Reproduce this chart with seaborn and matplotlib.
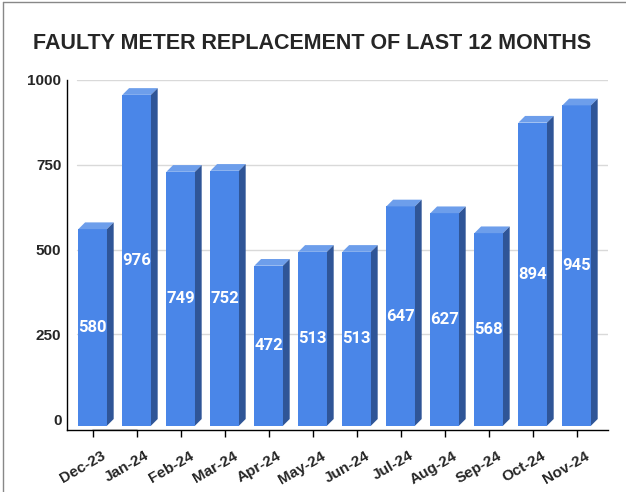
import numpy as np
import pandas as pd
import seaborn as sns
import matplotlib.pyplot as plt
import matplotlib.transforms as mtransforms
from matplotlib.patches import Polygon
from matplotlib.lines import Line2D

# data
months = ['Dec-23', 'Jan-24', 'Feb-24', 'Mar-24', 'Apr-24', 'May-24',
          'Jun-24', 'Jul-24', 'Aug-24', 'Sep-24', 'Oct-24', 'Nov-24']
replaced = [580, 976, 749, 752, 472, 513, 513, 647, 627, 568, 894, 945]
yticks = [0, 250, 500, 750, 1000]

front_col = '#4a86e8'
side_col = '#2f5597'
top_col = '#6d9eeb'

df = pd.DataFrame({'Month': months, 'Count': replaced})

sns.set_theme(style='white')
plt.rcParams['font.family'] = ['Liberation Sans', 'DejaVu Sans']

fig = plt.figure(figsize=(6.26, 4.92), dpi=100)
ax = fig.add_axes([0.1070, 0.1260, 0.8642, 0.7114])

sns.barplot(data=df, x='Month', y='Count', color=front_col, saturation=1,
            width=0.65, edgecolor='none', ax=ax, zorder=3)

ax.set_xlim(-0.584, 11.711)
ax.set_ylim(-32.4, 1000)

# depth of the 3d effect in data units (about 6.7 px)
dx = 6.7 / 44
dy = 6.7 / 0.339

# floor slab
xt = ax.get_xaxis_transform()
floor = Polygon([(0, -32.4), (0.0185, 0), (1, 0), (0.981, -32.4)],
                closed=True, transform=xt, facecolor='#e8e8e8',
                edgecolor='none', zorder=1)
ax.add_patch(floor)
ax.plot([0.0185, 1], [0, 0], transform=xt, color='#b7b7b7', lw=1.2, zorder=1.5)

# gridlines on back wall
for t in yticks[1:]:
    ax.axhline(t, xmin=0.0185, xmax=1, color='#d9d9d9', lw=1, zorder=0)

# 3d sides and tops built from the bars
for bar, v in zip(ax.patches, replaced):
    bar.set_y(-dy)
    x0 = bar.get_x()
    x1 = x0 + bar.get_width()
    top = Polygon([(x0, v - dy), (x1, v - dy), (x1 + dx, v), (x0 + dx, v)],
                  closed=True, facecolor=top_col, edgecolor='none', zorder=3)
    side = Polygon([(x1, -dy), (x1 + dx, 0), (x1 + dx, v), (x1, v - dy)],
                   closed=True, facecolor=side_col, edgecolor='none', zorder=3)
    ax.add_patch(top)
    ax.add_patch(side)
    ax.text(x0 + bar.get_width() / 2, v / 2 - dy, str(v), color='white',
            ha='center', va='center', fontsize=12, fontweight='bold',
            family=['Roboto', 'DejaVu Sans'], zorder=4)

ax.set_yticks(yticks)
ax.set_yticklabels([str(t) for t in yticks], fontsize=11, fontweight='bold')
ax.tick_params(axis='y', length=0, pad=4)
ax.tick_params(axis='x', length=5, width=1, color='black', pad=3,
               bottom=True, direction='out')
plt.setp(ax.get_xticklabels(), rotation=30, ha='right',
         rotation_mode='anchor', fontsize=11, fontweight='bold')
# shift month labels right/down like the original
shift = mtransforms.ScaledTranslation(0.08, -0.075, fig.dpi_scale_trans)
for lab in ax.get_xticklabels():
    lab.set_transform(lab.get_transform() + shift)
ax.set_xlabel('')
ax.set_ylabel('')

sns.despine(ax=ax, top=True, right=True)
ax.spines['left'].set_color('black')
ax.spines['bottom'].set_color('black')
ax.spines['left'].set_linewidth(1)
ax.spines['bottom'].set_linewidth(1)

fig.text(0.498, 0.9106, 'FAULTY METER REPLACEMENT OF LAST 12 MONTHS',
         ha='center', va='center', fontsize=15.5, fontweight='bold')

# outer frame (top and left edges of the screenshot)
fig.add_artist(Line2D([3 / 626, 3 / 626], [0, 1 - 2 / 492],
                      transform=fig.transFigure, color='#888888', lw=1))
fig.add_artist(Line2D([3 / 626, 1], [1 - 2 / 492, 1 - 2 / 492],
                      transform=fig.transFigure, color='#888888', lw=1))

fig.savefig('out.png', dpi=100)
